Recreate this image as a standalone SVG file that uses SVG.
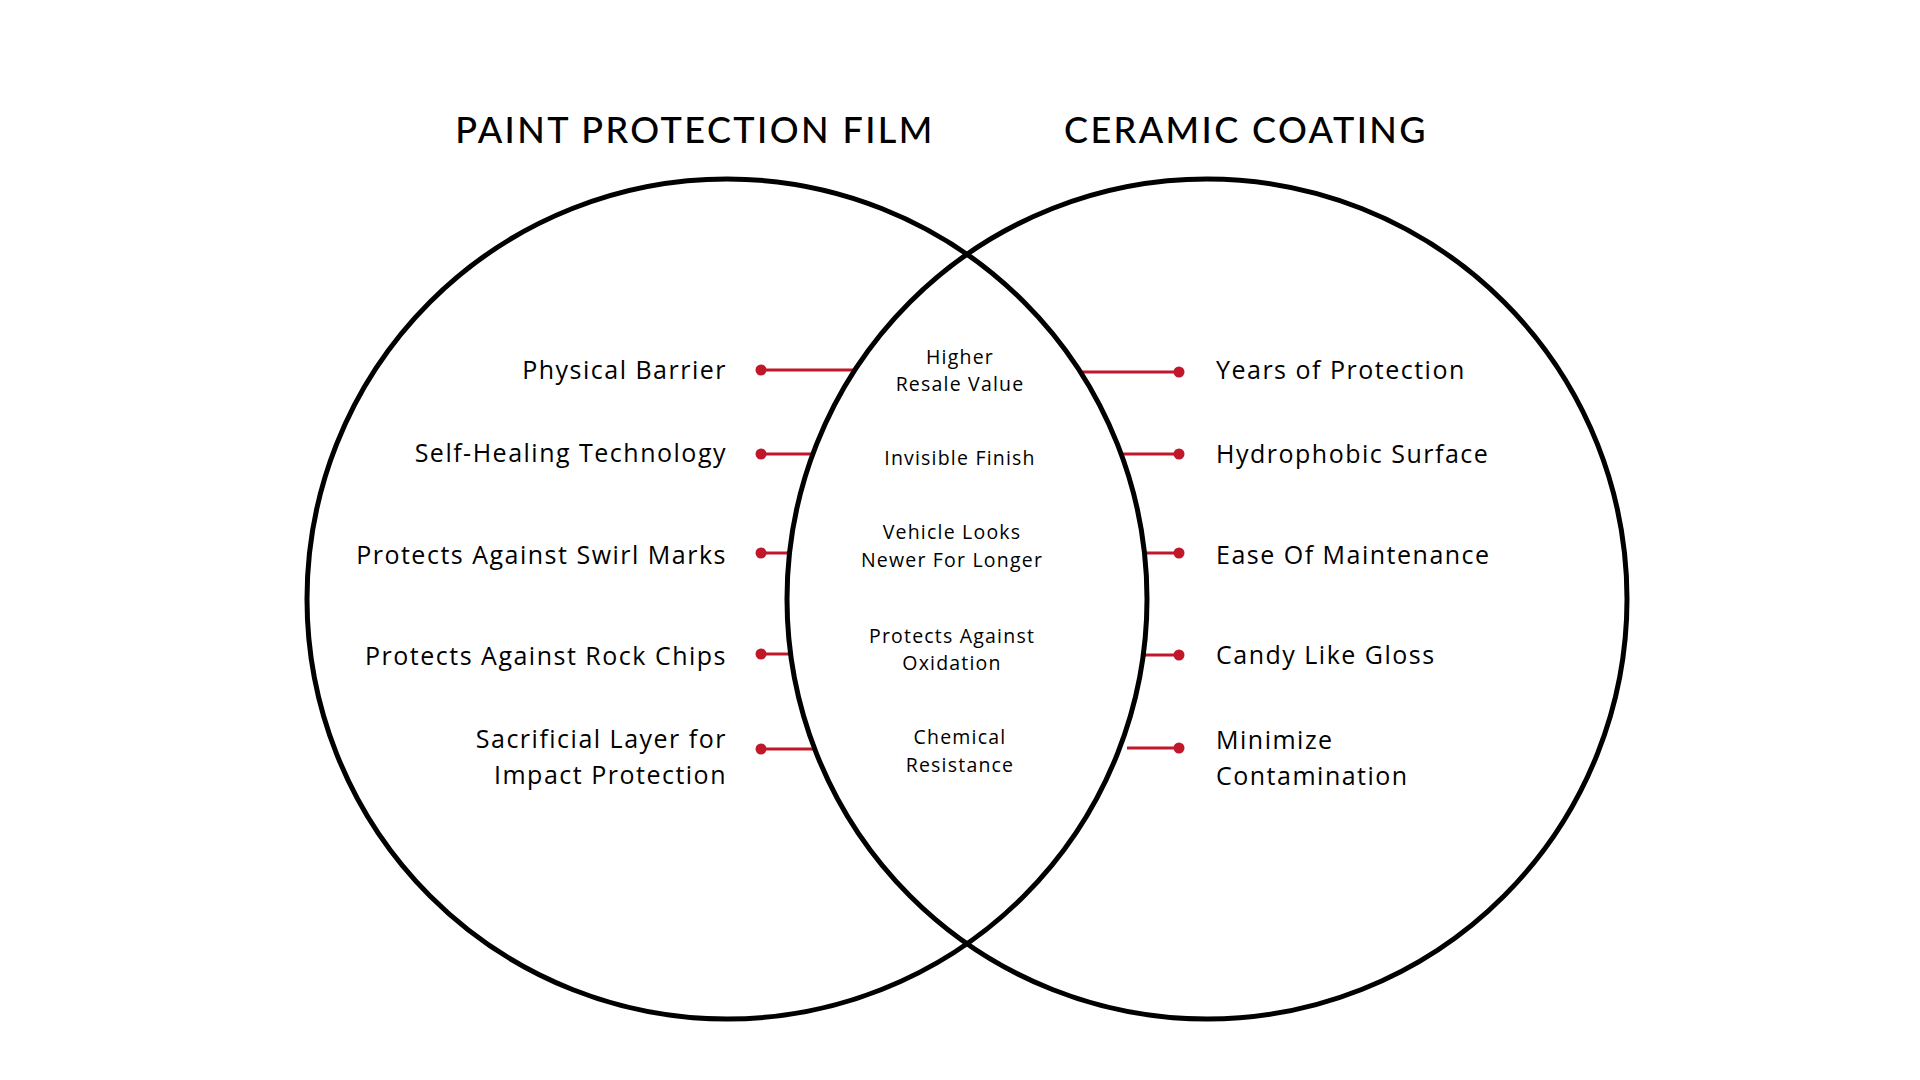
<svg xmlns="http://www.w3.org/2000/svg" width="1920" height="1080" viewBox="0 0 1920 1080">
<style>
  text { font-family: "Open Sans", "Liberation Sans", sans-serif; fill: #000; }
  .title { font-family: "Lato", "Liberation Sans", sans-serif; font-size: 36px; font-weight: 500; letter-spacing: 2.4px; text-anchor: middle; }
  .lbl { font-size: 25px; letter-spacing: 1.5px; }
  .left { text-anchor: end; }
  .mid { font-size: 19.5px; letter-spacing: 1.2px; text-anchor: middle; }
  .conn { stroke: #c0182a; stroke-width: 3; fill: none; }
  .dot { fill: #c0182a; }
  .circle { fill: none; stroke: #000; stroke-width: 5; }
</style>
<rect width="1920" height="1080" fill="#fff"/>
<g id="connectors">
  <line class="conn" x1="761" y1="370" x2="856" y2="370"/>
  <line class="conn" x1="761" y1="454" x2="813" y2="454"/>
  <line class="conn" x1="761" y1="553" x2="790" y2="553"/>
  <line class="conn" x1="761" y1="654" x2="790" y2="654"/>
  <line class="conn" x1="761" y1="749" x2="815" y2="749"/>
  <line class="conn" x1="1179" y1="372" x2="1080" y2="372"/>
  <line class="conn" x1="1179" y1="454" x2="1121" y2="454"/>
  <line class="conn" x1="1179" y1="553" x2="1144" y2="553"/>
  <line class="conn" x1="1179" y1="655" x2="1144" y2="655"/>
  <line class="conn" x1="1179" y1="748" x2="1127" y2="748"/>
  <circle class="dot" cx="761" cy="370" r="5.5"/>
  <circle class="dot" cx="761" cy="454" r="5.5"/>
  <circle class="dot" cx="761" cy="553" r="5.5"/>
  <circle class="dot" cx="761" cy="654" r="5.5"/>
  <circle class="dot" cx="761" cy="749" r="5.5"/>
  <circle class="dot" cx="1179" cy="372" r="5.5"/>
  <circle class="dot" cx="1179" cy="454" r="5.5"/>
  <circle class="dot" cx="1179" cy="553" r="5.5"/>
  <circle class="dot" cx="1179" cy="655" r="5.5"/>
  <circle class="dot" cx="1179" cy="748" r="5.5"/>
</g>
<g id="ppf-circle">
  <circle class="circle" cx="727" cy="599" r="420"/>
  <text class="title" x="695" y="143">PAINT PROTECTION FILM</text>
</g>
<g id="ceramic-circle">
  <circle class="circle" cx="1207" cy="599" r="420"/>
  <text class="title" x="1246" y="143">CERAMIC COATING</text>
</g>
<g id="ppf-physical-barrier"><text class="lbl left" x="727" y="379">Physical Barrier</text></g>
<g id="ppf-self-healing"><text class="lbl left" x="727" y="462">Self-Healing Technology</text></g>
<g id="ppf-swirl"><text class="lbl left" x="727" y="564">Protects Against Swirl Marks</text></g>
<g id="ppf-rock"><text class="lbl left" x="727" y="665">Protects Against Rock Chips</text></g>
<g id="ppf-sacrificial"><text class="lbl left" x="727" y="748">Sacrificial Layer for<tspan x="727" dy="36">Impact Protection</tspan></text></g>
<g id="cc-years"><text class="lbl" x="1216" y="379">Years of Protection</text></g>
<g id="cc-hydrophobic"><text class="lbl" x="1216" y="463">Hydrophobic Surface</text></g>
<g id="cc-maintenance"><text class="lbl" x="1216" y="564">Ease Of Maintenance</text></g>
<g id="cc-gloss"><text class="lbl" x="1216" y="664">Candy Like Gloss</text></g>
<g id="cc-contamination"><text class="lbl" x="1216" y="749">Minimize<tspan x="1216" dy="36">Contamination</tspan></text></g>
<g id="both-resale"><text class="mid" x="960" y="364">Higher<tspan x="960" dy="27">Resale Value</tspan></text></g>
<g id="both-invisible"><text class="mid" x="960" y="465">Invisible Finish</text></g>
<g id="both-newer"><text class="mid" x="952" y="539">Vehicle Looks<tspan x="952" dy="28">Newer For Longer</tspan></text></g>
<g id="both-oxidation"><text class="mid" x="952" y="643">Protects Against<tspan x="952" dy="27">Oxidation</tspan></text></g>
<g id="both-chemical"><text class="mid" x="960" y="744">Chemical<tspan x="960" dy="28">Resistance</tspan></text></g>
</svg>
